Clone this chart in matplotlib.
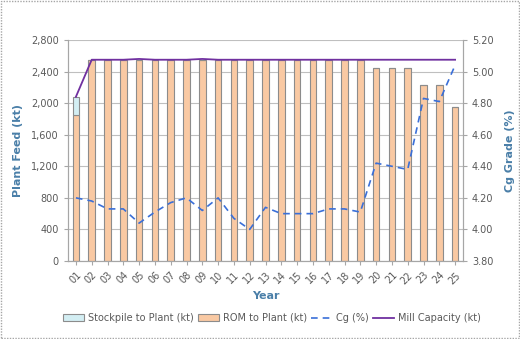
import matplotlib.pyplot as plt
import matplotlib.patches as mpatches
import numpy as np

years = ["%02d" % i for i in range(1, 26)]
rom_kt = [1850] + [2550] * 18 + [2440, 2440, 2440, 2230, 2230, 1950]
stockpile_kt = [230] + [0] * 24
cg_pct = [4.20, 4.18, 4.13, 4.13, 4.04, 4.11, 4.17, 4.20, 4.12, 4.20,
          4.07, 4.00, 4.14, 4.10, 4.10, 4.10, 4.13, 4.13, 4.11, 4.42,
          4.40, 4.38, 4.83, 4.81, 5.04]
mill_kt = [2080, 2550, 2550, 2550, 2560, 2550, 2550, 2550, 2560, 2550,
           2550, 2550, 2550, 2550, 2550, 2550, 2550, 2550, 2550, 2550,
           2550, 2550, 2550, 2550, 2550]

blue_txt = "#4A7FA8"
grey_txt = "#595959"
plt.rcParams['font.family'] = ['DejaVu Sans']

fig = plt.figure(figsize=(5.2, 3.39), dpi=100)
ax = fig.add_axes([68 / 520, 78 / 339, 395 / 520, 221 / 339])
x = np.arange(len(years))

rom = ax.bar(x, rom_kt, width=0.42, color="#F9C9A3", edgecolor="#8C8C8C", linewidth=0.8,
             label="ROM to Plant (kt)", zorder=2)
stock = ax.bar(x, stockpile_kt, bottom=rom_kt, width=0.42, color="#D3EEF3",
               edgecolor="#8C8C8C", linewidth=0.8, label="Stockpile to Plant (kt)", zorder=2)
mill, = ax.plot(x, mill_kt, color="#7030A0", linewidth=1.3, label="Mill Capacity (kt)", zorder=3)

ax.set_xlim(-0.5, len(years) - 0.5)
ax.set_ylim(0, 2800)
ax.set_yticks(range(0, 2801, 400))
ax.set_yticklabels(["{:,}".format(v) for v in range(0, 2801, 400)])
ax.set_xticks(x)
ax.set_xticklabels(years, rotation=45, ha="right", rotation_mode="anchor")
ax.grid(axis="y", color="#BFBFBF", linewidth=0.8, zorder=0)
ax.set_axisbelow(True)
for s in ["left", "right", "bottom"]:
    ax.spines[s].set_color("#A6A6A6")
ax.spines["top"].set_visible(False)
ax.tick_params(colors=grey_txt, labelsize=7, length=3, color="#A6A6A6")
ax.set_ylabel("Plant Feed (kt)", color=blue_txt, fontsize=8, fontweight="bold", labelpad=6)
ax.set_xlabel("Year", color=blue_txt, fontsize=8, fontweight="bold", labelpad=4)

ax2 = ax.twinx()
cg, = ax2.plot(x, cg_pct, color="#3A6FD8", linewidth=1.2, linestyle=(0, (4, 3)),
               label="Cg (%)", zorder=4)
ax2.set_ylim(3.8, 5.2)
ax2.set_yticks(np.arange(3.8, 5.21, 0.2))
ax2.set_yticklabels(["%.2f" % v for v in np.arange(3.8, 5.21, 0.2)])
ax2.tick_params(colors=grey_txt, labelsize=7, length=3, color="#A6A6A6")
for s in ["left", "right", "bottom"]:
    ax2.spines[s].set_color("#A6A6A6")
ax2.spines["top"].set_visible(False)
ax2.set_ylabel("Cg Grade (%)", color=blue_txt, fontsize=8, fontweight="bold", labelpad=8)

handles = [stock, rom, cg, mill]
labels = [h.get_label() for h in handles]
fig.legend(handles, labels, loc="center", bbox_to_anchor=(272 / 520, 1 - 318 / 339),
           ncol=4, frameon=False, fontsize=7, handlelength=2.2, handletextpad=0.4,
           columnspacing=0.4, labelcolor=grey_txt)

fig.patches.append(mpatches.Rectangle((0.002, 0.003), 0.996, 0.994, transform=fig.transFigure,
                                      fill=False, edgecolor="#A6A6A6", linewidth=1,
                                      linestyle=(0, (1, 1))))

fig.savefig("out.png", dpi=100)
